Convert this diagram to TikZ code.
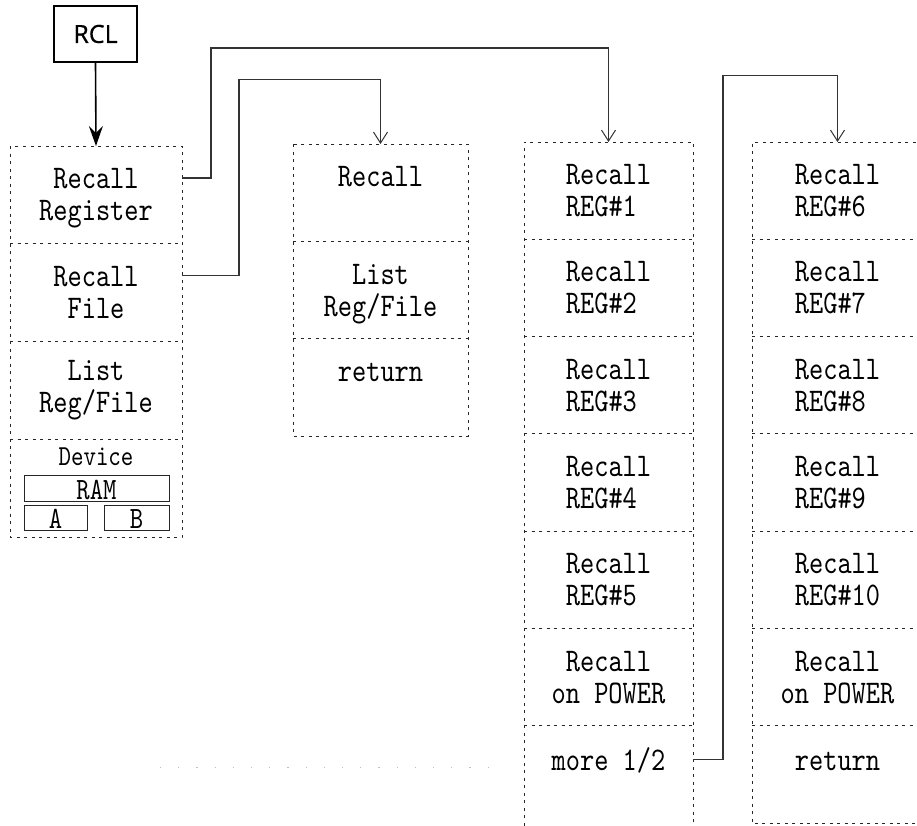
\documentclass[tikz,border=0pt]{standalone}
\usepackage{fontspec}
\usetikzlibrary{arrows.meta}
\newfontfamily\dfont{lmmono10-regular.otf}[FakeStretch=0.82]
\newfontfamily\rclfont{Open Sans}[FakeBold=0.6]
\begin{document}
\begin{tikzpicture}[x=1pt,y=-1pt,
  cell/.style={draw=none,inner sep=0pt,outer sep=0pt,minimum width=#1},
  dline/.style={line width=0.9pt,black!85,dash pattern=on 3pt off 4.5pt},
  conn/.style={line width=1.1pt,black!80,-{Straight Barb[length=11pt,width=14pt,line width=1pt]}},
  txt/.style={inner sep=0pt,outer sep=0pt,anchor=base,font=\dfont\fontsize{33}{32}\selectfont},
  smalltxt/.style={inner sep=0pt,outer sep=0pt,anchor=base,font=\dfont\fontsize{29}{30}\selectfont},
  devbox/.style={draw,line width=0.9pt,black!85,inner sep=0pt,outer sep=0pt},
  rclbox/.style={draw,line width=2pt,inner sep=0pt,minimum width=83pt,minimum height=56pt,font=\rclfont\fontsize{25}{28}\selectfont}
]
\useasboundingbox (0,0) rectangle (917,825);
\clip (0,0) rectangle (917,825);

% RCL key
\node[rclbox] (rcl) at (95.5,34) {RCL};

% cells
\foreach \i in {1,...,4}
  \node[cell=172pt,minimum height=97.75pt] (c1-\i) at (96,146+97.75*\i-48.875) {};
\foreach \i in {1,...,3}
  \node[cell=175pt,minimum height=97.33pt] (c2-\i) at (380.5,144+97.33*\i-48.665) {};
\foreach \i in {1,...,7}
  \node[cell=169pt,minimum height=97.3pt] (c3-\i) at (608.5,142+97.3*\i-48.65) {};
\foreach \i in {1,...,7}
  \node[cell=171pt,minimum height=97.3pt] (c4-\i) at (837.5,142+97.3*\i-48.65) {};

% column outlines
\draw[dline] (c1-1.north west) rectangle (c1-4.south east);
\foreach \i in {1,2,3} \draw[dline] (c1-\i.south west) -- (c1-\i.south east);
\draw[dline] (c2-1.north west) rectangle (c2-3.south east);
\foreach \i in {1,2} \draw[dline] (c2-\i.south west) -- (c2-\i.south east);
\draw[dline] ([yshift=-10pt]c3-7.south west) -- (c3-1.north west) -- (c3-1.north east) -- ([yshift=-10pt]c3-7.south east);
\foreach \i in {1,...,6} \draw[dline] (c3-\i.south west) -- (c3-\i.south east);
\draw[dline] (c4-1.north east) -- (c4-1.north west) -- (c4-7.south west) -- (c4-7.south east);
\foreach \i in {1,...,6} \draw[dline] (c4-\i.south west) -- (c4-\i.south east);

% column 1 texts
\node[txt] (t1a) at ([yshift=6pt]c1-1.center) {Recall};
\node[txt] (t1b) at ([yshift=-26pt]c1-1.center) {Register};
\node[txt] (t2a) at ([yshift=6pt]c1-2.center) {Recall};
\node[txt] (t2b) at ([yshift=-26pt]c1-2.center) {File};
\node[txt] (t3a) at ([yshift=10pt]c1-3.center) {List};
\node[txt] (t3b) at ([yshift=-22pt]c1-3.center) {Reg/File};
\node[smalltxt] (dev) at ([yshift=23pt]c1-4.center) {Device};
\node[devbox,minimum width=145pt,minimum height=26pt] (ram) at (96.5,488) {};
\node[devbox,minimum width=63pt,minimum height=25pt] (ba) at (55.5,517.5) {};
\node[devbox,minimum width=65pt,minimum height=25pt] (bb) at (136.5,517.5) {};
\node[txt,font=\dfont\fontsize{31}{32}\selectfont] (ramt) at ([yshift=2pt]ram.south) {RAM};
\node[txt,font=\dfont\fontsize{31}{32}\selectfont] (at) at ([yshift=2pt]ba.south) {A};
\node[txt,font=\dfont\fontsize{31}{32}\selectfont] (bt) at ([yshift=2pt]bb.south) {B};

% column 2 texts
\node[txt] (u1a) at ([yshift=6pt]c2-1.center) {Recall};
\node[txt] (u2a) at ([yshift=6pt]c2-2.center) {List};
\node[txt] (u2b) at ([yshift=-26pt]c2-2.center) {Reg/File};
\node[txt] (u3a) at ([yshift=6pt]c2-3.center) {return};

% column 3 texts
\foreach \i in {1,...,5} {
  \node[txt] (v\i a) at ([yshift=6pt]c3-\i.center) {Recall};
  \node[txt,anchor=base west] (v\i b) at ([yshift=-32pt]v\i a.base west) {REG\#\i};
}
\node[txt] (v6a) at ([yshift=6pt]c3-6.center) {Recall};
\node[txt] (v6b) at ([yshift=-26pt]c3-6.center) {on POWER};
\node[txt] (v7a) at ([yshift=4pt]c3-7.center) {more 1/2};

% column 4 texts
\foreach \i/\n in {1/6,2/7,3/8,4/9,5/10} {
  \node[txt] (w\i a) at ([yshift=6pt]c4-\i.center) {Recall};
  \node[txt,anchor=base west] (w\i b) at ([yshift=-32pt]w\i a.base west) {REG\#\n};
}
\node[txt] (w6a) at ([yshift=6pt]c4-6.center) {Recall};
\node[txt] (w6b) at ([yshift=-26pt]c4-6.center) {on POWER};
\node[txt] (w7a) at ([yshift=4pt]c4-7.center) {return};

% connectors
\draw[line width=1.6pt,-{Stealth[length=20pt,width=14pt,inset=7pt]}] (rcl.south) -- (c1-1.north);
\draw[conn] ([yshift=-32pt]c1-1.north east) -- ++(29,0) -- ++(0,-130) -| (c3-1.north);
\draw[conn] ([yshift=-32pt]c1-2.north east) -- ++(57,0) -- ++(0,-196) -| (c2-1.north);
\draw[conn] ([yshift=-34pt]c3-7.north east) -- ++(30,0) -- ++(0,-684) -| (c4-1.north);

% faint scan line
\draw[black!25,line width=1pt,dash pattern=on 1.2pt off 17pt] (160,767) -- (502,767);
\end{tikzpicture}
\end{document}
